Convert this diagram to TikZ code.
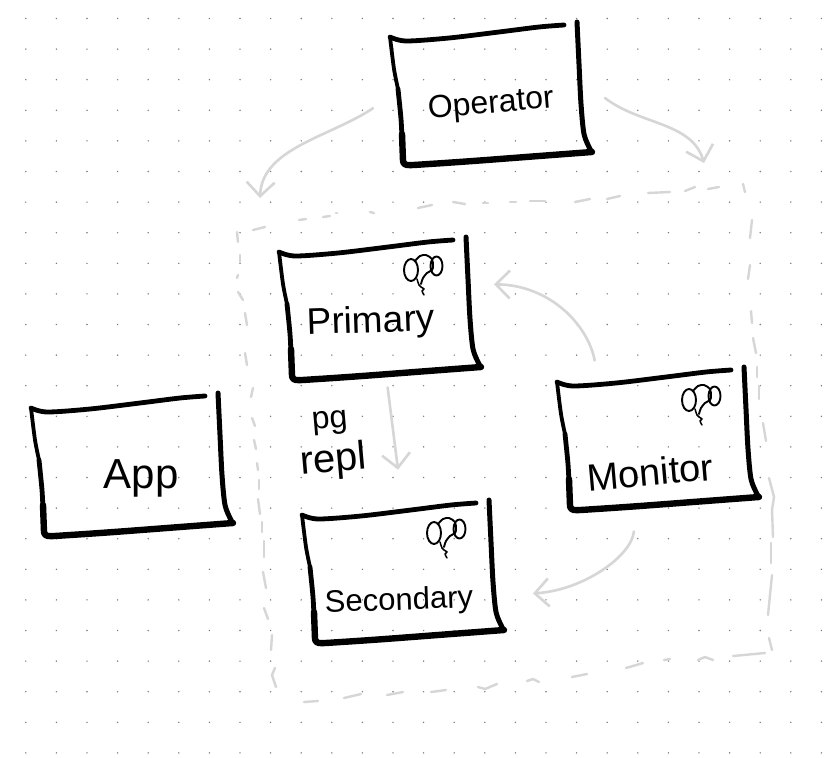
\documentclass[tikz,border=0pt]{standalone}
\usepackage{xcolor}
\usepackage{fontspec}
\setmainfont{Liberation Sans}
\usepackage{tikz}
\usetikzlibrary{arrows.meta,calc}
\definecolor{pencil}{HTML}{D6D6D6}
\definecolor{griddot}{HTML}{7C7C7C}
\tikzstyle{stamp}=[inner sep=0pt, outer sep=16pt, minimum width=200pt, minimum height=125pt]
\tikzstyle{hand}=[inner sep=0pt, text=black, align=center]
\tikzstyle{flow}=[->, draw=pencil, line width=2.6pt, line cap=round, line join=round]
\tikzstyle{trace}=[draw=pencil, line width=2.4pt, line cap=round]
\tikzstyle{ink}=[draw=black, line cap=round, line join=round]
\tikzset{
  boxink/.pic={
    % hand drawn outline, the same for all boxes
    \draw[ink, line width=4.8pt] plot[smooth] coordinates {(-99,-57) (-83,-53) (-40,-56) (10,-62) (50,-67) (75,-69)};
    \draw[ink, line width=5pt] plot[smooth] coordinates {(88,-72) (90,-30) (92,10) (95,40) (101,55) (103,58)};
    \draw[ink, line width=6.4pt] plot[smooth] coordinates {(103,58) (50,62) (-16,67) (-60,70) (-82,71) (-86,67)};
    \draw[ink, line width=3.8pt] plot[smooth] coordinates {(-99,-57) (-95,-25) (-91,-5)};
    \draw[ink, line width=4.8pt] plot[smooth] coordinates {(-91,-5) (-88,25) (-87,45)};
    \draw[ink, line width=6.4pt] (-87,40) -- (-86,67);
  },
  elephant/.pic={
    \draw[ink, line width=1.9pt] (-13,-3) ellipse[x radius=7pt, y radius=11pt];
    \draw[ink, line width=1.9pt] (12.5,-7) ellipse[x radius=6pt, y radius=9.5pt];
    \draw[ink, line width=1.9pt] plot[smooth] coordinates {(-9,-12) (-4,-17) (2,-18) (8,-14) (9,-7) (8,-3) (3,0) (-1,5) (-3,11)};
    \draw[ink, line width=1.5pt] plot[smooth] coordinates {(-7,6) (-5,12) (-3,14) (0,16) (-2,18) (0,22)};
  }
}

\begin{document}
\begin{tikzpicture}[x=1pt, y=-1pt, >={Straight Barb[length=14pt,width=28pt]}]
  \path[use as bounding box, fill=white] (0,0) rectangle (826,757);

  \foreach \i in {0,...,26}
    \foreach \j in {0,...,24}
      \fill[griddot] ({25.8+30.6*\i},{18.5+30.6*\j}) circle (0.8pt);

  % cluster outline, dash by dash
  \foreach \xa/\ya/\xb/\yb in {237/232/238/242, 253/230/265/227, 299/220/306/219, 323/217/330/216,
      336/213/337/213, 370/212/374/213, 418/208/432/205, 453/202/465/204, 483/203/488/203,
      510/202/516/202, 530/201/545/201, 575/202/590/199, 607/199/620/196, 648/193/670/192,
      685/191/695/187, 708/189/719/187, 743/184/745/192, 752/220/750/238, 750/265/748/279,
      751/311/752/323, 753/338/756/353, 757/367/757/377, 759/386/759/399, 763/423/766/441,
      769/478/774/497, 774/497/772/510, 772/510/773/537, 771/543/771/563, 772/575/768/615,
      769/638/772/650, 765/653/733/656, 713/660/705/657, 705/657/698/660, 670/659/664/660,
      643/663/626/668, 587/674/572/677, 539/682/533/679, 533/679/527/681, 497/684/485/689,
      485/689/478/687, 446/690/431/692, 403/692/387/695, 361/694/344/698, 318/701/304/702,
      276/687/272/675, 272/675/275/668, 271/650/272/635, 268/619/264/608, 266/588/263/572,
      264/557/264/541, 262/532/262/522, 260/514/258/499, 259/489/259/480, 258/470/257/463,
      256/449/254/440, 255/426/252/418, 251/397/253/388, 247/365/245/353, 247/325/245/313,
      243/300/238/292, 237/278/238/275, 240/262/240/255}
    \draw[trace] (\xa,\ya) -- (\xb,\yb);

  \node(operator)[stamp] at (489,94) {};
  \pic at (operator.center) {boxink};
  \path(operator.center)+(2,11) node(operatorlabel)[hand, rotate=5, font=\fontsize{32}{32}\selectfont]{Operator};

  \node(app)[stamp] at (130,465) {};
  \pic at (app.center) {boxink};
  \path(app.center)+(11,13) node(applabel)[hand, font=\fontsize{42}{42}\selectfont]{App};

  \node(primary)[stamp] at (378,309) {};
  \pic at (primary.center) {boxink};
  \pic at ($(primary.center)+(46,-36)$) {elephant};
  \path(primary.center)+(-7,14) node(primarylabel)[hand, rotate=2, font=\fontsize{37}{37}\selectfont]{Primary};

  \node(monitor)[stamp] at (656,439) {};
  \pic at (monitor.center) {boxink};
  \pic at ($(monitor.center)+(46,-36)$) {elephant};
  \path(monitor.center)+(-6,33) node(monitorlabel)[hand, rotate=5, font=\fontsize{38}{38}\selectfont]{Monitor};

  \node(secondary)[stamp] at (401,572) {};
  \pic at (secondary.center) {boxink};
  \pic at ($(secondary.center)+(46,-36)$) {elephant};
  \path(secondary.center)+(-2,30) node(secondarylabel)[hand, rotate=2, font=\fontsize{31}{31}\selectfont]{Secondary};

  \path(primary.south)+(-46,58) node(repllabel)[hand, rotate=5, font=\fontsize{32}{44}\selectfont]{pg\\\fontsize{40}{44}\selectfont repl};

  \coordinate(clusterwest) at (260,198);
  \coordinate(clustereast) at (704,163);

  \draw[flow] (operator.187) .. controls (330,137) and (262,148) .. (clusterwest);
  \draw[flow] (operator.358) .. controls (640,125) and (692,122) .. (clustereast);
  \draw[flow, shorten >=24pt] (primary.277) -- (secondary.north);
  \draw[flow] (monitor.128) .. controls (588,325) and (550,285) .. (primary.12);
  \draw[flow, shorten <=14pt, shorten >=16pt] (monitor.255) .. controls (632,555) and (585,590) .. (secondary.349);
\end{tikzpicture}
\end{document}
